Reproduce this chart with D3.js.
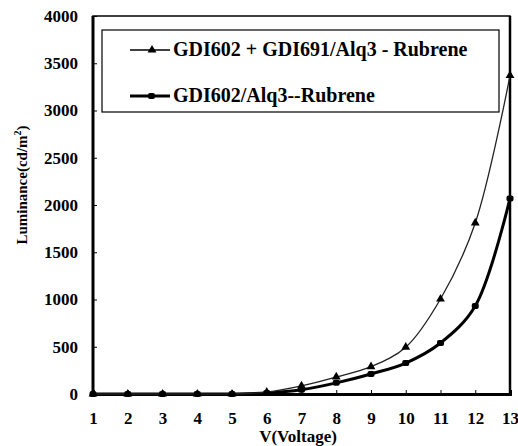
<!DOCTYPE html>
<html>
<head>
<style>
body { margin: 0; background: #fff; }
</style>
</head>
<body>
<svg width="518" height="446"></svg>
<script src="https://cdn.jsdelivr.net/npm/d3@7/dist/d3.min.js"></script>
<script>

// data
var voltage = [1, 2, 3, 4, 5, 6, 7, 8, 9, 10, 11, 12, 13];
var lumDoped = [0, 0, 0, 0, 0, 20, 85, 180, 290, 495, 1005, 1810, 3370];
var lumPlain = [0, 0, 0, 0, 0, 10, 45, 118, 212, 328, 540, 932, 2070];
var seriesNames = ["GDI602 + GDI691/Alq3 - Rubrene", "GDI602/Alq3--Rubrene"];
var yTicks = [0, 500, 1000, 1500, 2000, 2500, 3000, 3500, 4000];

var serif = "'Liberation Serif'";

function font(sel, size) {
  return sel.style("font-family", serif).style("font-weight", "bold").style("font-size", size + "px");
}

var svg = d3.select("svg");

var x = d3.scaleLinear().domain([1, 13]).range([93, 510]);
var y = d3.scaleLinear().domain([0, 4000]).range([394, 16]);

// frame
svg.append("rect")
    .attr("x", x(1)).attr("y", y(4000))
    .attr("width", x(13) - x(1)).attr("height", y(0) - y(4000))
    .attr("fill", "none").attr("stroke", "#000").attr("stroke-width", 1.5);
svg.append("line")
    .attr("x1", x(1)).attr("x2", x(1)).attr("y1", y(4000)).attr("y2", y(0))
    .attr("stroke", "#000").attr("stroke-width", 3);
svg.append("line")
    .attr("x1", x(13)).attr("x2", x(13)).attr("y1", y(4000)).attr("y2", y(0))
    .attr("stroke", "#000").attr("stroke-width", 2.5);

var yAxis = svg.append("g")
    .attr("transform", "translate(" + x(1) + ",0)")
    .call(d3.axisLeft(y).tickValues(yTicks).tickFormat(d3.format("d")).tickSize(-4).tickPadding(15));
yAxis.select(".domain").remove();
yAxis.attr("font-family", null).attr("font-size", null);
font(yAxis.selectAll("text"), 17).attr("fill", "#000");

var xAxis = svg.append("g")
    .attr("transform", "translate(0," + y(0) + ")")
    .call(d3.axisBottom(x).tickValues(voltage).tickFormat(d3.format("d")).tickSize(-4).tickPadding(18));
xAxis.select(".domain").attr("stroke-width", 3);
xAxis.attr("font-family", null).attr("font-size", null);
font(xAxis.selectAll("text"), 17).attr("fill", "#000");

font(svg.append("text"), 17)
    .attr("x", 298).attr("y", 442)
    .attr("text-anchor", "middle")
    .text("V(Voltage)");

font(svg.append("text"), 15)
    .attr("transform", "translate(27,185) rotate(-90)")
    .attr("text-anchor", "middle")
    .html("Luminance(cd/m<tspan dy='-6' style='font-size:10px'>2</tspan><tspan dy='6'>)</tspan>");

var line = d3.line()
    .x(function(d) { return x(d[0]); })
    .y(function(d) { return y(d[1]); })
    .curve(d3.curveCatmullRom.alpha(0.5));

var dataDoped = d3.zip(voltage, lumDoped);
var dataPlain = d3.zip(voltage, lumPlain);

svg.append("path").datum(dataPlain)
    .attr("d", line).attr("fill", "none").attr("stroke", "#000").attr("stroke-width", 3);
svg.append("path").datum(dataDoped)
    .attr("d", line).attr("fill", "none").attr("stroke", "#222").attr("stroke-width", 1.3);

var tri = d3.symbol().type(d3.symbolTriangle).size(34);
svg.append("g").selectAll("path")
    .data(dataDoped)
  .enter().append("path")
    .attr("d", tri)
    .attr("transform", function(d) { return "translate(" + x(d[0]) + "," + y(d[1]) + ")"; })
    .attr("fill", "#000");

svg.append("g").selectAll("rect")
    .data(dataPlain)
  .enter().append("rect")
    .attr("x", function(d) { return x(d[0]) - 3.5; })
    .attr("y", function(d) { return y(d[1]) - 3; })
    .attr("width", 7).attr("height", 6).attr("rx", 2)
    .attr("fill", "#000");

// legend
var legend = svg.append("g");
legend.append("rect")
    .attr("x", 102).attr("y", 30).attr("width", 397).attr("height", 82)
    .attr("fill", "#fff").attr("stroke", "#000").attr("stroke-width", 1.2);

var rows = [
  { name: seriesNames[0], y: 50, width: 1.3, marker: "tri" },
  { name: seriesNames[1], y: 96, width: 3, marker: "sq" }
];
rows.forEach(function(r) {
  legend.append("line")
      .attr("x1", 130).attr("x2", 170).attr("y1", r.y).attr("y2", r.y)
      .attr("stroke", "#000").attr("stroke-width", r.width);
  if (r.marker === "tri") {
    legend.append("path").attr("d", tri)
        .attr("transform", "translate(152," + r.y + ")").attr("fill", "#000");
  } else {
    legend.append("rect").attr("x", 148).attr("y", r.y - 3)
        .attr("width", 7).attr("height", 6).attr("rx", 2).attr("fill", "#000");
  }
  font(legend.append("text"), 20)
      .attr("x", 173).attr("y", r.y + 6)
      .text(r.name);
});

</script>
</body>
</html>
